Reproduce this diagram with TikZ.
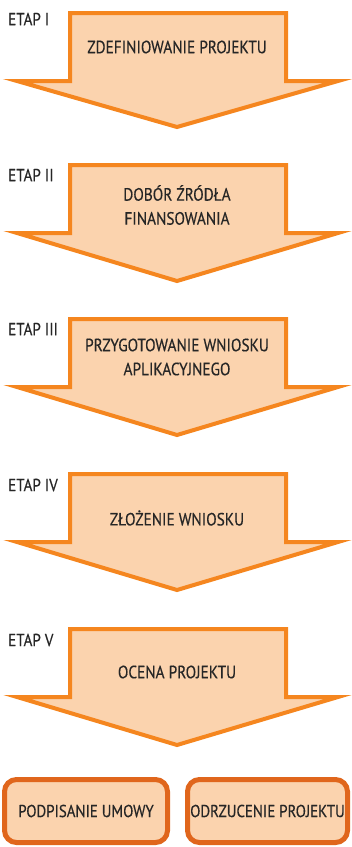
\documentclass[tikz,border=0pt]{standalone}
\usepackage{fontspec}
\setmainfont{PT Sans}[FakeStretch=0.86,FakeBold=0.4]
\usepackage{tikz}

\definecolor{arrowline}{HTML}{F5861F}
\definecolor{arrowfill}{HTML}{FBD3AE}
\definecolor{boxline}{HTML}{E0661C}
\definecolor{txt}{HTML}{262626}

\begin{document}
\begin{tikzpicture}[x=1pt,y=-1pt,
  etap/.style={anchor=west,inner sep=0pt,text=txt,font=\fontsize{17.5}{20}\selectfont},
  stage/.style={align=center,inner sep=0pt,text=txt,font=\fontsize{17.8}{24}\selectfont},
  pole/.style={line width=4pt,draw=arrowline,fill=arrowfill,line join=miter},
  wynik/.style={draw=boxline,fill=arrowfill,line width=5pt,rounded corners=12pt,
    inner sep=0pt,text=txt,font=\fontsize{17.3}{24}\selectfont,minimum height=63pt}]
\useasboundingbox (0,0) rectangle (352,847);
\filldraw[pole] (70,13) -- (286,13) -- (286,81) -- (338,81) -- (177,127) -- (17,81) -- (70,81) --cycle; % etap I
\node[etap] (e1) at (8,19) {ETAP I};
\node[stage] (s1) at (177,47) {ZDEFINIOWANIE PROJEKTU};
\filldraw[pole] (70,165) -- (286,165) -- (286,233) -- (338,233) -- (177,281) -- (17,233) -- (70,233) --cycle; % etap II
\node[etap] (e2) at (8,175) {ETAP II};
\node[stage] (s2) at (177,205) {DOBÓR ŹRÓDŁA\\FINANSOWANIA};
\filldraw[pole] (70,319) -- (286,319) -- (286,387) -- (338,387) -- (177,435) -- (17,387) -- (70,387) --cycle; % etap III
\node[etap] (e3) at (8,329) {ETAP III};
\node[stage] (s3) at (177,357) {PRZYGOTOWANIE WNIOSKU\\APLIKACYJNEGO};
\filldraw[pole] (70,474) -- (286,474) -- (286,542) -- (338,542) -- (177,590) -- (17,542) -- (70,542) --cycle; % etap IV
\node[etap] (e4) at (8,485) {ETAP IV};
\node[stage] (s4) at (177,518) {ZŁOŻENIE WNIOSKU};
\filldraw[pole] (70,629) -- (286,629) -- (286,697) -- (338,697) -- (177,745) -- (17,697) -- (70,697) --cycle; % etap V
\node[etap] (e5) at (8,640) {ETAP V};
\node[stage] (s5) at (177,672) {OCENA PROJEKTU};
% wyniki oceny
\node[wynik,minimum width=163pt] (umowa) at (86,811) {PODPISANIE UMOWY};
\node[wynik,minimum width=160pt] (odrzut) at (267.5,811) {ODRZUCENIE PROJEKTU};
\end{tikzpicture}
\end{document}
